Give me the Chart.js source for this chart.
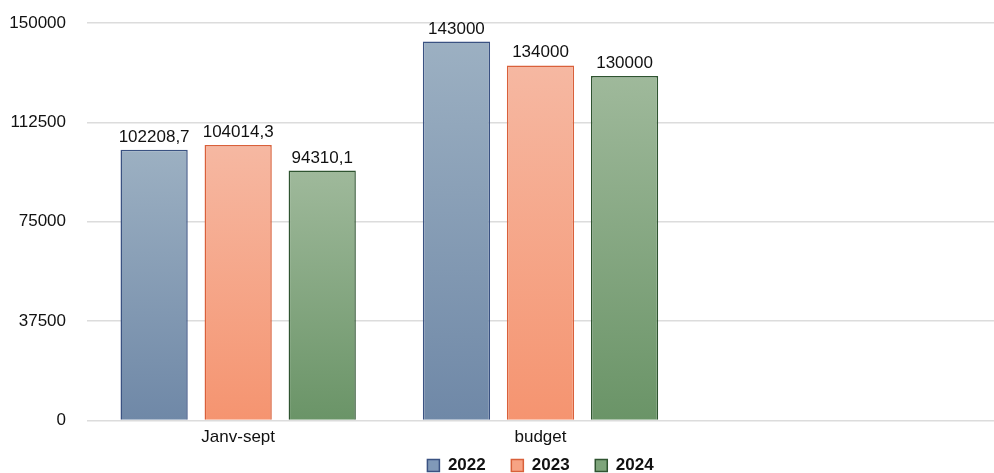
<!DOCTYPE html>
<html>
<head>
<meta charset="utf-8">
<script src="https://cdn.jsdelivr.net/npm/chart.js@4"></script>
<style>
  html, body { margin: 0; padding: 0; background: #fff; overflow: hidden; }
  #wrap { width: 994px; height: 484px; position: relative; }
</style>
</head>
<body>
<div id="wrap"><canvas id="chart"></canvas></div>
<script>
// data
const categories = ['Janv-sept', 'budget', '']
const years = ['2022', '2023', '2024']
const values2022 = [102208.7, 143000]
const values2023 = [104014.3, 134000]
const values2024 = [94310.1, 130000]
const yTicks = [0, 37500, 75000, 112500, 150000]

const FONT = "'Liberation Sans', Arial, Helvetica, sans-serif"

const colors = {
  '2022': { top: '#9cb0c2', bottom: '#6f88a7', border: '#3a5282', legend: '#8099b8' },
  '2023': { top: '#f6b8a2', bottom: '#f59470', border: '#d9603a', legend: '#f7a384' },
  '2024': { top: '#9fb99b', bottom: '#6a9467', border: '#2f5430', legend: '#7ea57b' }
}

// vertical gradient for each bar, from its top to the baseline
const barGradient = ( c ) => ( ctx ) => {
  const chart = ctx.chart
  if ( ctx.type !== 'data' || !chart.chartArea || !chart.scales.y ) return c.bottom
  const y = chart.scales.y
  const yTop = y.getPixelForValue( ctx.parsed.y )
  const yBase = y.getPixelForValue( 0 )
  const g = chart.ctx.createLinearGradient( 0, yTop, 0, yBase )
  g.addColorStop( 0, c.top )
  g.addColorStop( 1, c.bottom )
  return g
}

const fmt = v => String( v ).replace( '.', ',' )

// numbers above the bars
const valueLabels = {
  id: 'valueLabels',
  afterDatasetsDraw( chart ) {
    const ctx = chart.ctx
    ctx.save()
    ctx.font = '17px ' + FONT
    ctx.fillStyle = '#111'
    ctx.textAlign = 'center'
    ctx.textBaseline = 'alphabetic'
    chart.data.datasets.forEach( ( ds, i ) => {
      chart.getDatasetMeta( i ).data.forEach( ( bar, j ) => {
        if ( ds.data[j] == null ) return
        ctx.fillText( fmt( ds.data[j] ), bar.x, bar.y - 8 )
      })
    })
    ctx.restore()
  }
}

const seriesValues = [values2022, values2023, values2024]

const datasets = years.map( ( yr, i ) => ({
  label: yr,
  data: seriesValues[i],
  backgroundColor: barGradient( colors[yr] ),
  borderColor: colors[yr].border,
  borderWidth: 1.5,
  categoryPercentage: 0.834,
  barPercentage: 0.8
}))

new Chart( document.getElementById( 'chart' ), {
  type: 'bar',
  data: { labels: categories, datasets: datasets },
  options: {
    responsive: true,
    maintainAspectRatio: false,
    animation: false,
    layout: { padding: { top: 23, left: 9, right: 0, bottom: 0 } },
    scales: {
      x: {
        grid: { display: false, drawTicks: false },
        border: { display: false },
        ticks: { color: '#111', padding: 7, font: { family: FONT, size: 17 } }
      },
      y: {
        min: 0,
        max: 150000,
        afterBuildTicks: axis => { axis.ticks = yTicks.map( v => ({ value: v }) ) },
        afterFit: axis => { axis.width = 78 },
        grid: { color: '#dcdcdc', lineWidth: 1.5, drawTicks: true, tickLength: 21, tickColor: 'rgba(0,0,0,0)' },
        border: { display: false },
        ticks: {
          color: '#111',
          padding: 0,
          font: { family: FONT, size: 17 },
          callback: v => String( v )
        }
      }
    },
    plugins: {
      tooltip: { enabled: false },
      legend: {
        position: 'bottom',
        fullSize: false,
        labels: {
          boxWidth: 12,
          boxHeight: 12,
          padding: 2,
          color: '#111',
          font: { family: FONT, size: 17, weight: 'bold' },
          generateLabels: chart => chart.data.datasets.map( ( ds, i ) => ({
            text: i < years.length - 1 ? ds.label + '     ' : ds.label,
            fillStyle: colors[ds.label].legend,
            strokeStyle: colors[ds.label].border,
            lineWidth: 1.5,
            fontColor: '#111',
            datasetIndex: i
          }))
        }
      }
    }
  },
  plugins: [valueLabels]
})
</script>
</body>
</html>
